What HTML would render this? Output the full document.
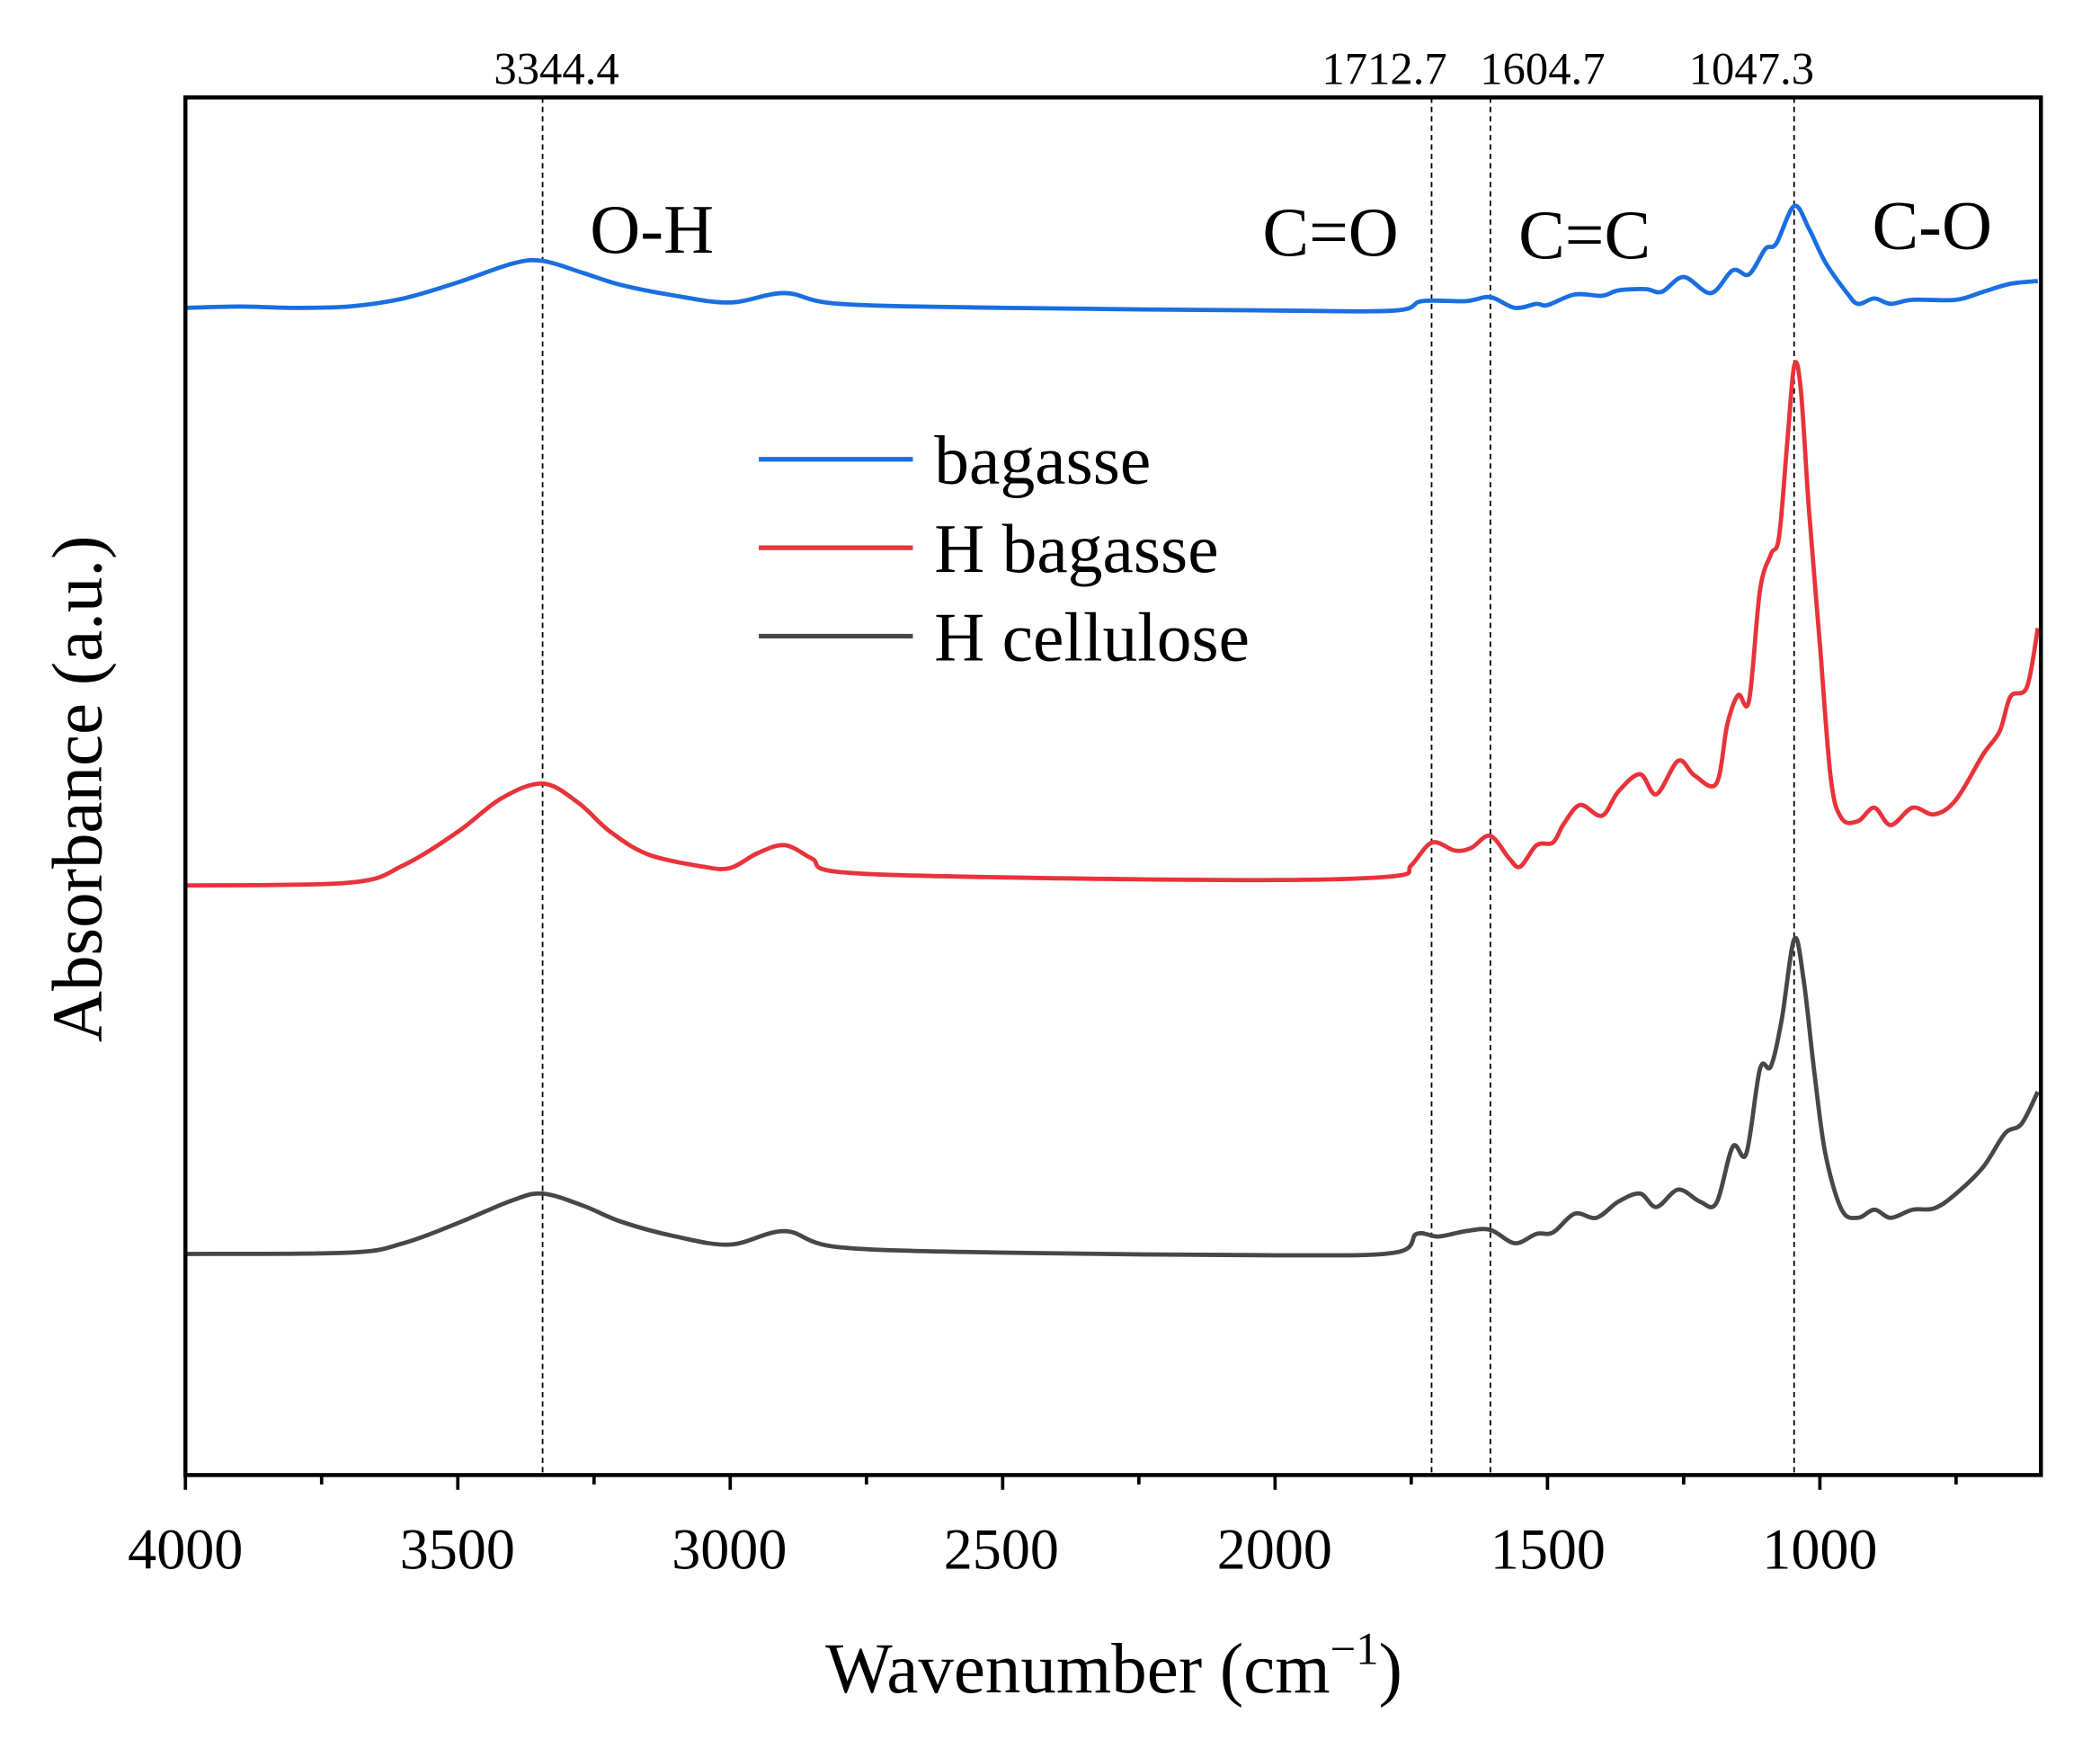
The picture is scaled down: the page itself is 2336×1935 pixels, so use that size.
<!DOCTYPE html>
<html><head><meta charset="utf-8"><style>
html,body{margin:0;padding:0;background:#fff;}
svg{display:block;}
text{font-family:"Liberation Serif",serif;fill:#000;}
</style></head><body>
<svg id="s" width="2336" height="1935" viewBox="-1.4 -0.7 1567.5 1298.4" xmlns="http://www.w3.org/2000/svg">
<rect x="-5" y="-5" width="1580" height="1310" fill="#fff"/>
<g id="dash" stroke="#000" stroke-width="1.2" stroke-dasharray="4,3"></g>
<g id="curves" fill="none" stroke-width="3.2" stroke-linejoin="round"></g>
<rect x="137" y="72" width="1385" height="1028" fill="none" stroke="#000" stroke-width="3"/>
<g id="ticks" stroke="#000" stroke-width="2.5"></g>
<g font-size="43" text-anchor="middle">
<text x="137" y="1170">4000</text><text x="340" y="1170">3500</text><text x="543" y="1170">3000</text>
<text x="746" y="1170">2500</text><text x="950" y="1170">2000</text><text x="1154" y="1170">1500</text>
<text x="1357" y="1170">1000</text>
</g>
<text x="830" y="1262" font-size="53" text-anchor="middle">Wavenumber (cm<tspan font-size="34" dy="-21">−1</tspan><tspan dy="21">)</tspan></text>
<text transform="translate(74,588) rotate(-90)" font-size="53" text-anchor="middle">Absorbance (a.u.)</text>
<g font-size="34" text-anchor="middle">
<text x="414" y="62">3344.4</text><text x="1032" y="62">1712.7</text><text x="1150" y="62">1604.7</text><text x="1306" y="62">1047.3</text>
</g>
<g font-size="52">
<text x="439" y="188">O-H</text><text x="941" y="190">C=O</text><text x="1132" y="192">C=C</text><text x="1396" y="185">C-O</text>
</g>
<g stroke-width="3.5">
<line x1="565" y1="342" x2="680" y2="342" stroke="#1a6fe0"/>
<line x1="565" y1="408" x2="680" y2="408" stroke="#e8333a"/>
<line x1="565" y1="474" x2="680" y2="474" stroke="#474747"/>
</g>
<g font-size="52">
<text x="696" y="360">bagasse</text><text x="696" y="426">H bagasse</text><text x="696" y="492">H cellulose</text>
</g>
</svg>
<script>
var X=function(w){return 137+(4000-w)*0.40667;};
var ns="http://www.w3.org/2000/svg";
function el(p,t,a){var e=document.createElementNS(ns,t);for(var k in a)e.setAttribute(k,a[k]);p.appendChild(e);return e;}
var dash=document.getElementById('dash');
[3344.4,1712.7,1604.7,1047.3].forEach(function(w){el(dash,'line',{x1:X(w),x2:X(w),y1:72,y2:1100});});
var tk=document.getElementById('ticks');
for(var w=4000;w>=600;w-=250){var maj=(w%500===0);el(tk,'line',{x1:X(w),x2:X(w),y1:1100,y2:maj?1111:1107});}
var data={
"#1a6fe0":[[4000,229],[3900,228],[3800,229],[3700,228],[3600,222],[3500,210],[3400,196],[3344,194],[3270,203],[3200,212],[3100,220],[3000,225],[2900,218],[2800,226],[2500,229],[2000,231],[1780,231],[1730,224],[1650,224],[1605,221],[1560,229],[1520,226],[1500,227],[1450,219],[1400,220],[1370,216],[1320,215],[1290,217],[1250,206],[1200,218],[1160,201],[1130,204],[1100,185],[1080,181],[1047,153],[1020,170],[990,195],[950,218],[930,226],[900,222],[870,226],[830,223],[750,223],[700,217],[650,211],[600,209]],
"#e8333a":[[4000,660],[3700,658],[3600,645],[3500,620],[3420,595],[3344,584],[3280,598],[3220,620],[3150,637],[3050,646],[3000,647],[2950,636],[2900,630],[2850,640],[2800,650],[2500,654],[2000,656],[1780,653],[1750,645],[1712,628],[1670,634],[1640,632],[1605,623],[1570,640],[1550,646],[1520,630],[1490,628],[1470,614],[1440,600],[1400,608],[1370,590],[1330,577],[1300,592],[1260,567],[1230,578],[1190,584],[1170,540],[1150,518],[1130,522],[1110,440],[1090,413],[1075,400],[1060,330],[1047,272],[1035,290],[1020,380],[1000,480],[980,580],[960,610],[930,612],[900,602],[870,615],[830,602],[790,607],[750,596],[700,562],[670,545],[650,519],[620,512],[600,468]],
"#474747":[[4000,935],[3700,934],[3600,927],[3500,912],[3400,895],[3344,890],[3270,899],[3200,911],[3100,922],[3000,928],[2900,918],[2800,930],[2500,934],[2000,936],[1780,934],[1740,920],[1700,922],[1650,918],[1605,917],[1560,927],[1520,920],[1490,919],[1450,905],[1410,908],[1370,896],[1330,890],[1300,900],[1260,887],[1220,896],[1190,897],[1160,855],[1135,860],[1110,797],[1090,795],[1070,760],[1047,700],[1030,730],[1010,800],[990,860],[960,902],[930,908],[900,902],[870,908],[830,902],[790,901],[750,890],[700,870],[660,845],[630,838],[600,814]]
};
var cg=document.getElementById('curves');
for(var c in data){var p=data[c].map(function(q){return [X(q[0]),q[1]];});
var d="M"+p[0][0]+","+p[0][1];
for(var i=0;i<p.length-1;i++){var p0=p[i-1]||p[i],p1=p[i],p2=p[i+1],p3=p[i+2]||p2;
d+=" C"+(p1[0]+(p2[0]-p0[0])/6)+","+(p1[1]+(p2[1]-p0[1])/6)+" "+(p2[0]-(p3[0]-p1[0])/6)+","+(p2[1]-(p3[1]-p1[1])/6)+" "+p2[0]+","+p2[1];}
el(cg,'path',{d:d,stroke:c});}
</script>
</body></html>
